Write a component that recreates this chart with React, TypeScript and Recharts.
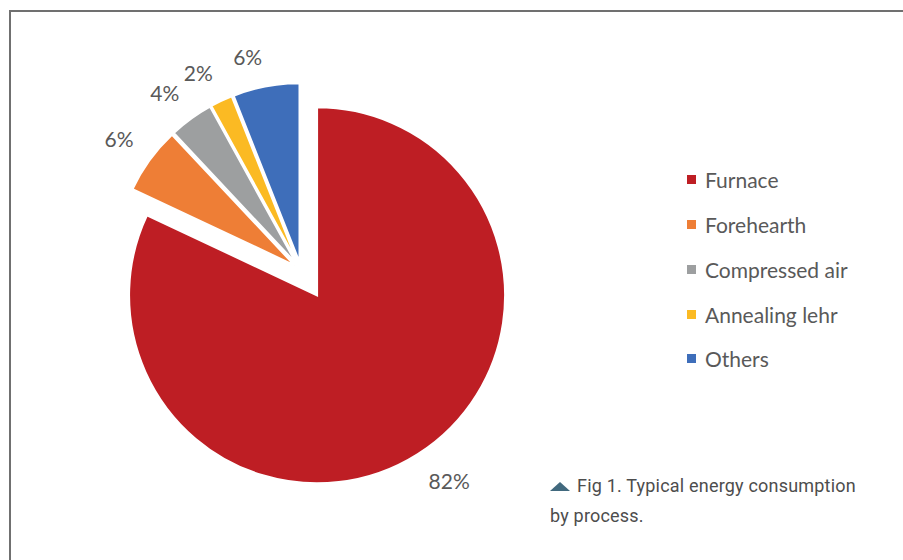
import { PieChart, Pie, Cell, Sector, Legend } from "recharts";

const categories = ["Furnace", "Forehearth", "Compressed air", "Annealing lehr", "Others"];
const shares = [82, 6, 4, 2, 6];
const colors = ["#BE1E24", "#EE7E36", "#9D9FA0", "#FBBA23", "#3E6EBA"];

// explosion distance and radius per slice (the Furnace slice is pulled out further)
const explode = [30, 8, 8, 8, 8];
const radii = [188, 179, 179, 179, 179];

const data = categories.map((name, i) => ({ name, value: shares[i] }));

const RAD = Math.PI / 180;
const unit = (midAngle: number) => [Math.cos(-midAngle * RAD), Math.sin(-midAngle * RAD)];

const sliceCenter = (props: any) => {
  const i = categories.indexOf(props.name);
  const [ux, uy] = unit(props.midAngle);
  return { i, ux, uy, x: props.cx + ux * explode[i], y: props.cy + uy * explode[i] };
};

const renderSlice = (props: any) => {
  const c = sliceCenter(props);
  return (
    <Sector
      {...props}
      cx={c.x}
      cy={c.y}
      outerRadius={radii[c.i]}
      stroke="#fff"
      strokeWidth={2}
    />
  );
};

const renderLabel = (props: any) => {
  const c = sliceCenter(props);
  const r = radii[c.i] + 20;
  const x = c.x + c.ux * r;
  const y = c.y + c.uy * r + (c.uy < 0 ? -10 : 10);
  return (
    <text
      x={x}
      y={y}
      textAnchor={c.ux < 0 ? "end" : "start"}
      dominantBaseline="central"
      fontFamily="Lato"
      fontSize={21}
      fill="#595959"
    >
      {`${props.value}%`}
    </text>
  );
};

const renderLegend = ({ payload }: any) => {
  const items = [...payload].sort(
    (a: any, b: any) => categories.indexOf(a.value) - categories.indexOf(b.value)
  );
  return (
    <div>
      {items.map((p: any) => (
        <div key={p.value} style={{ display: "flex", alignItems: "center", height: 44.7 }}>
          <span style={{ width: 9, height: 9, background: p.color, marginRight: 9 }} />
          <span style={{ fontFamily: "Lato", fontSize: 21, color: "#595959" }}>{p.value}</span>
        </div>
      ))}
    </div>
  );
};

export default function App() {
  return (
    <div
      style={{
        position: "absolute",
        left: 0,
        top: 0,
        width: 903,
        height: 560,
        background: "#fff",
        overflow: "hidden",
      }}
    >
      <div
        style={{
          position: "absolute",
          left: 9,
          top: 10,
          width: 900,
          height: 560,
          borderTop: "2px solid #707070",
          borderLeft: "2px solid #707070",
        }}
      />
      <PieChart width={903} height={560} margin={{ top: 0, right: 0, bottom: 0, left: 0 }}>
        <Pie
          data={data}
          dataKey="value"
          nameKey="name"
          cx={301}
          cy={270}
          outerRadius={188}
          startAngle={90}
          endAngle={-270}
          stroke="#fff"
          strokeWidth={2}
          shape={renderSlice}
          label={renderLabel}
          labelLine={false}
          isAnimationActive={false}
        >
          {data.map((d, i) => (
            <Cell key={d.name} fill={colors[i]} />
          ))}
        </Pie>
        <Legend
          layout="vertical"
          align="right"
          verticalAlign="middle"
          content={renderLegend}
          wrapperStyle={{ left: 687, top: 157.6, right: "auto", bottom: "auto", width: 200 }}
        />
      </PieChart>
      <div
        style={{
          position: "absolute",
          left: 550,
          top: 471,
          width: 330,
          fontFamily: "Roboto",
          fontSize: 18,
          lineHeight: "30px",
          color: "#4d4d4d",
          letterSpacing: 0.2,
        }}
      >
        <span
          style={{
            display: "inline-block",
            width: 0,
            height: 0,
            borderLeft: "10.5px solid transparent",
            borderRight: "10.5px solid transparent",
            borderBottom: "9px solid #41697e",
            marginRight: 7,
            verticalAlign: "1px",
          }}
        />
        Fig 1. Typical energy consumption
        <br />
        by process.
      </div>
    </div>
  );
}
